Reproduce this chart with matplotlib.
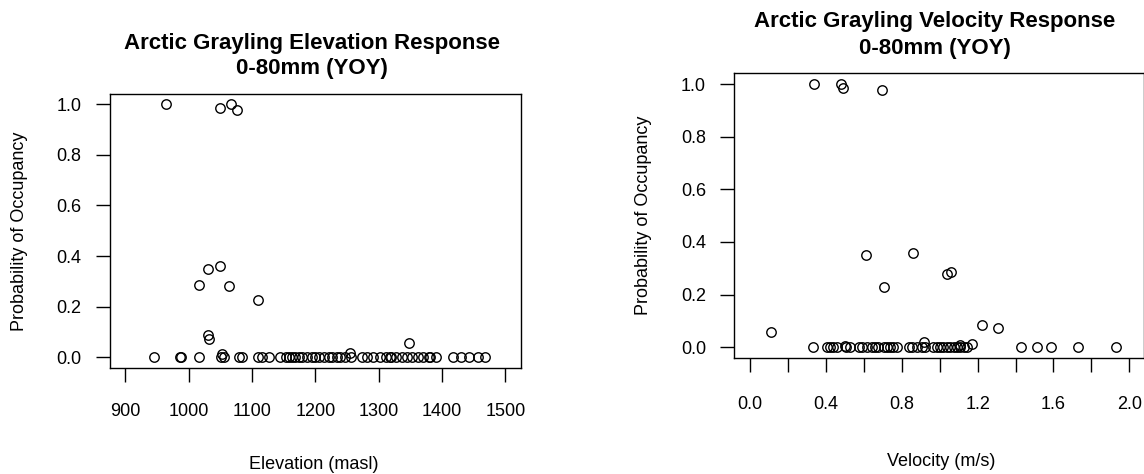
import matplotlib
matplotlib.use("Agg")
import matplotlib.pyplot as plt

plt.rcParams['font.family'] = ['Liberation Sans', 'DejaVu Sans']

# ---------------- data ----------------
elev_title = ["Arctic Grayling Elevation Response", "0-80mm (YOY)"]
vel_title = ["Arctic Grayling Velocity Response", "0-80mm (YOY)"]
y_label = "Probability of Occupancy"
elev_xlabel = "Elevation (masl)"
vel_xlabel = "Velocity (m/s)"

elev_x = [965, 1050, 1067, 1076,
          1030, 1049, 1017, 1064, 1110, 1031, 1032, 1348, 1052, 1254,
          945, 986, 988, 1016, 1051, 1056, 1079, 1085, 1109, 1116, 1127,
          1144, 1153, 1158, 1163, 1168, 1174, 1179, 1187, 1195, 1200,
          1205, 1213, 1221, 1226, 1234, 1239, 1247, 1257, 1273, 1281,
          1291, 1302, 1312, 1318, 1320, 1328, 1336, 1344, 1352, 1362,
          1370, 1379, 1381, 1391, 1417, 1430, 1443, 1456, 1467]
elev_y = [1.0, 0.983, 1.0, 0.977,
          0.35, 0.359, 0.287, 0.28, 0.227, 0.087, 0.074, 0.058, 0.012, 0.018,
          0, 0, 0, 0, 0, 0, 0, 0, 0, 0, 0,
          0, 0, 0, 0, 0, 0, 0, 0, 0, 0,
          0, 0, 0, 0, 0, 0, 0, 0, 0, 0,
          0, 0, 0, 0, 0, 0, 0, 0, 0, 0,
          0, 0, 0, 0, 0, 0, 0, 0, 0]

vel_x = [0.109, 0.339, 0.480, 0.491, 0.698,
         0.609, 0.858, 0.709, 1.040, 1.061, 1.221, 1.310, 1.173, 0.920,
         0.501, 1.108,
         0.331, 0.408, 0.422, 0.440, 0.461, 0.507, 0.528,
         0.572, 0.589, 0.616, 0.642, 0.660, 0.677, 0.704, 0.721, 0.739,
         0.756, 0.777,
         0.836, 0.853, 0.880, 0.906, 0.923, 0.967, 0.985, 1.003, 1.020,
         1.038, 1.055, 1.073, 1.091, 1.108, 1.126, 1.143,
         1.430, 1.511, 1.588, 1.731, 1.931]
vel_y = [0.058, 1.0, 1.0, 0.984, 0.978,
         0.352, 0.359, 0.228, 0.280, 0.287, 0.086, 0.075, 0.013, 0.020,
         0.005, 0.007,
         0, 0, 0, 0, 0, 0, 0,
         0, 0, 0, 0, 0, 0, 0, 0, 0,
         0, 0,
         0, 0, 0, 0, 0, 0, 0, 0, 0,
         0, 0, 0, 0, 0, 0, 0,
         0, 0, 0, 0, 0]

elev_ticks = [900, 1000, 1100, 1200, 1300, 1400, 1500]
elev_ticklabels = ["900", "1000", "1100", "1200", "1300", "1400", "1500"]
vel_ticks = [0.0, 0.2, 0.4, 0.6, 0.8, 1.0, 1.2, 1.4, 1.6, 1.8, 2.0]
vel_ticklabels = ["0.0", "", "0.4", "", "0.8", "", "1.2", "", "1.6", "", "2.0"]
prob_ticks = [0.0, 0.2, 0.4, 0.6, 0.8, 1.0]
prob_ticklabels = ["0.0", "0.2", "0.4", "0.6", "0.8", "1.0"]

# ---------------- figure ----------------
W, H = 1144, 474
fig = plt.figure(figsize=(W / 100, H / 100), dpi=100)


def px_axes(l, t, r, b):
    return fig.add_axes([l / W, 1 - b / H, (r - l) / W, (b - t) / H])


def style(ax, xpad):
    for s in ax.spines.values():
        s.set_linewidth(1.0)
        s.set_color('black')
    ax.tick_params(axis='both', direction='out', length=10, width=1.0,
                   labelsize=13, colors='black')
    ax.tick_params(axis='x', pad=xpad)
    ax.tick_params(axis='y', pad=10.4)


ax1 = px_axes(110, 94, 520.7, 367.5)
ax1.plot(elev_x, elev_y, linestyle='none', marker='o', ms=6.8,
         mfc='none', mec='black', mew=1.0)
ax1.set_xlim(876, 1524)
ax1.set_ylim(-0.04, 1.04)
ax1.set_xticks(elev_ticks)
ax1.set_xticklabels(elev_ticklabels)
ax1.set_yticks(prob_ticks)
ax1.set_yticklabels(prob_ticklabels)
style(ax1, 15.5)

ax2 = px_axes(734.3, 72.7, 1143.5, 358.3)
ax2.plot(vel_x, vel_y, linestyle='none', marker='o', ms=6.8,
         mfc='none', mec='black', mew=1.0)
ax2.set_xlim(-0.083, 2.075)
ax2.set_ylim(-0.042, 1.043)
ax2.set_xticks(vel_ticks)
ax2.set_xticklabels(vel_ticklabels)
ax2.set_yticks(prob_ticks)
ax2.set_yticklabels(prob_ticklabels)
style(ax2, 17.0)


def ftext(x, y, s, **kw):
    fig.text(x / W, 1 - y / H, s, **kw)


# titles (baseline positions)
ftext(312.2, 49.3, elev_title[0], ha='center', va='baseline',
      fontsize=16, fontweight='bold')
ftext(312.2, 74.0, elev_title[1], ha='center', va='baseline',
      fontsize=16, fontweight='bold')
ftext(935.0, 27.3, vel_title[0], ha='center', va='baseline',
      fontsize=16, fontweight='bold')
ftext(935.0, 54.0, vel_title[1], ha='center', va='baseline',
      fontsize=16, fontweight='bold')

# axis labels
ftext(314, 469.3, elev_xlabel, ha='center', va='baseline', fontsize=13)
ftext(940.8, 466.0, vel_xlabel, ha='center', va='baseline', fontsize=13)
ftext(20, 231, y_label, ha='center', va='center', rotation=90, fontsize=13)
ftext(643.3, 215.5, y_label, ha='center', va='center', rotation=90, fontsize=13)

fig.savefig("out.png", dpi=100)
